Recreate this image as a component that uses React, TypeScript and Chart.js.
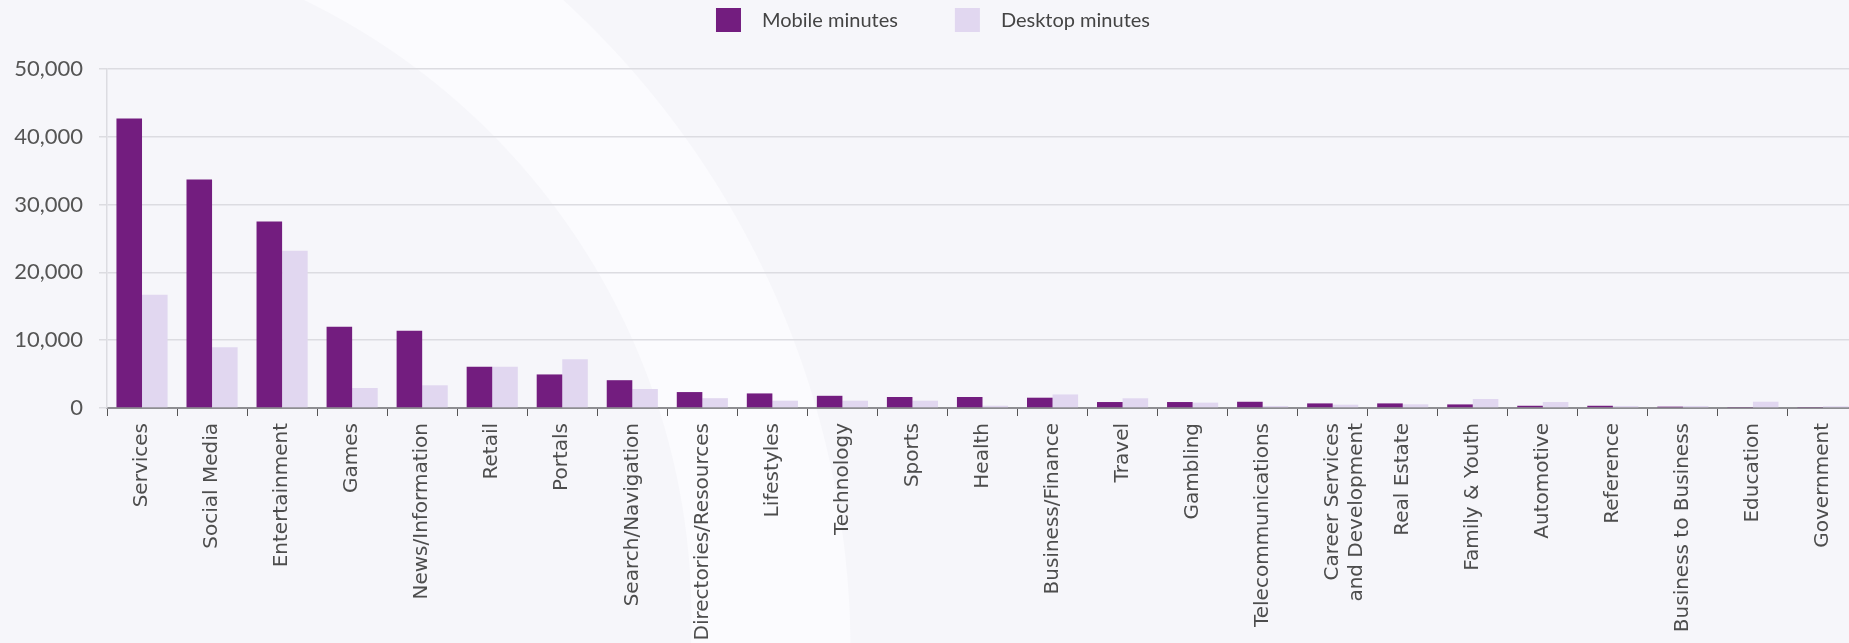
import { useEffect, useRef } from "react";
import { Chart, registerables } from "chart.js";

Chart.register(...registerables);

const categories: (string | string[])[] = [
  "Services",
  "Social Media",
  "Entertainment",
  "Games",
  "News/Information",
  "Retail",
  "Portals",
  "Search/Navigation",
  "Directories/Resources",
  "Lifestyles",
  "Technology",
  "Sports",
  "Health",
  "Business/Finance",
  "Travel",
  "Gambling",
  "Telecommunications",
  ["Career Services", "and Development"],
  "Real Estate",
  "Family & Youth",
  "Automotive",
  "Reference",
  "Business to Business",
  "Education",
  "Government",
];

const mobileMinutes = [
  42700, 33700, 27500, 12000, 11400, 6100, 4950, 4100, 2350, 2150, 1800, 1620,
  1620, 1520, 880, 880, 920, 680, 680, 530, 330, 330, 200, 150, 150,
];

const desktopMinutes = [
  16700, 8950, 23200, 2950, 3350, 6100, 7200, 2800, 1450, 1080, 1080, 1080,
  340, 2000, 1430, 790, 300, 490, 540, 1330, 880, 300, 300, 930, 250,
];

const yTickValues = [0, 10000, 20000, 30000, 40000, 50000];

const seriesNames = ["Mobile minutes", "Desktop minutes"];
const seriesColors = ["#731d7f", "#e1d7f0"];

const legendPlugin = {
  id: "topLegend",
  afterDraw(chart: any) {
    const ctx = chart.ctx as CanvasRenderingContext2D;
    ctx.save();
    ctx.font = "20px Lato";
    ctx.textBaseline = "middle";
    ctx.textAlign = "left";
    const boxW = 25;
    const boxH = 24;
    const gapText = 21;
    const gapItem = 57;
    const items = chart.data.datasets.map((ds: any) => ({
      text: ds.label as string,
      color: ds.backgroundColor as string,
    }));
    const widths = items.map(
      (it: any) => boxW + gapText + ctx.measureText(it.text).width
    );
    const total =
      widths.reduce((a: number, b: number) => a + b, 0) +
      gapItem * (items.length - 1);
    let x = chart.width / 2 + 4 - total / 2;
    const cy = 20;
    items.forEach((it: any, i: number) => {
      ctx.fillStyle = it.color;
      ctx.fillRect(x, cy - boxH / 2, boxW, boxH);
      ctx.fillStyle = "#444444";
      ctx.fillText(it.text, x + boxW + gapText, cy + 1);
      x += widths[i] + gapItem;
    });
    ctx.restore();
  },
};

export default function App() {
  const canvasRef = useRef<HTMLCanvasElement | null>(null);

  useEffect(() => {
    if (!canvasRef.current) return;
    const chart = new Chart(canvasRef.current, {
      type: "bar",
      data: {
        labels: categories,
        datasets: [
          {
            label: seriesNames[0],
            data: mobileMinutes,
            backgroundColor: seriesColors[0],
            borderWidth: 0,
            categoryPercentage: 0.73,
            barPercentage: 1.0,
          },
          {
            label: seriesNames[1],
            data: desktopMinutes,
            backgroundColor: seriesColors[1],
            borderWidth: 0,
            categoryPercentage: 0.73,
            barPercentage: 1.0,
          },
        ],
      },
      options: {
        animation: false,
        responsive: true,
        maintainAspectRatio: false,
        layout: { padding: { top: 69, left: 0, right: 0, bottom: 0 } },
        plugins: {
          legend: { display: false },
          tooltip: { enabled: false },
        },
        scales: {
          x: {
            offset: true,
            ticks: {
              color: "#4d4d4d",
              font: { family: "DejaVu Sans", size: 20 },
              minRotation: 90,
              maxRotation: 90,
              padding: 7,
              autoSkip: false,
            },
            grid: {
              display: true,
              drawOnChartArea: false,
              drawTicks: true,
              tickLength: 8,
              color: "#555555",
              lineWidth: 1,
              offset: true,
            },
            border: { color: "#8e8e92", width: 2 },
            afterFit: (scale: any) => {
              scale.height = 235;
            },
          },
          y: {
            min: 0,
            max: 50000,
            afterBuildTicks: (scale: any) => {
              scale.ticks = yTickValues.map((v) => ({ value: v }));
            },
            ticks: {
              color: "#555555",
              font: { family: "Lato", size: 22 },
              padding: 16,
              callback: (v: any) => Number(v).toLocaleString("en-US"),
            },
            grid: {
              color: "#dcdce1",
              lineWidth: 1.5,
              tickLength: 8,
            },
            border: { color: "#dcdce1", width: 1.5 },
            afterFit: (scale: any) => {
              scale.width = 107;
            },
          },
        },
      },
      plugins: [legendPlugin],
    });
    return () => chart.destroy();
  }, []);

  return (
    <div
      style={{
        position: "fixed",
        left: 0,
        top: 0,
        width: 1849,
        height: 643,
        overflow: "hidden",
        background:
          "radial-gradient(circle at 5px 618px, #f6f6fa 686px, rgba(246,246,250,0) 687px), radial-gradient(circle at -33px 652px, #fbfbfe 883px, #f6f6fa 884px)",
      }}
    >
      <div
        style={{
          position: "absolute",
          left: 0,
          top: 0,
          width: 1858,
          height: 643,
        }}
      >
        <canvas ref={canvasRef} />
      </div>
    </div>
  );
}
